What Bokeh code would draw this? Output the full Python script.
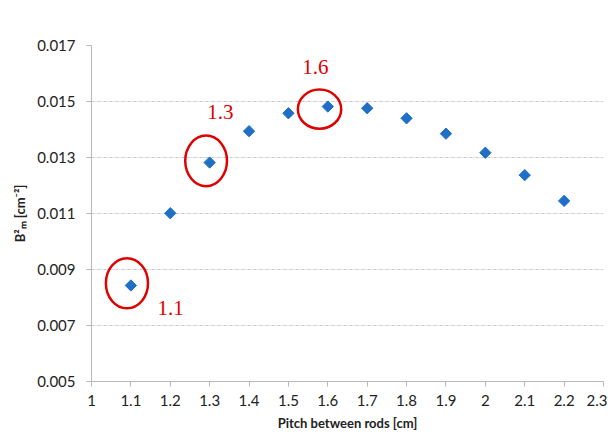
import numpy as np
from bokeh.plotting import figure
from bokeh.models import FixedTicker, CustomJSTickFormatter, Range1d
from bokeh.core.properties import value
from bokeh.embed import file_html
from bokeh.resources import INLINE

# data
pitch = [1.1, 1.2, 1.3, 1.4, 1.5, 1.6, 1.7, 1.8, 1.9, 2.0, 2.1, 2.2]
b2m = [0.00843, 0.01101, 0.01282, 0.01394, 0.01458, 0.01482, 0.01476,
       0.01440, 0.01385, 0.01317, 0.01237, 0.01145]

# highlighted pitches (ellipse centre / size in data units) and labels
hl_x = [1.09, 1.291, 1.579]
hl_y = [0.00851, 0.01288, 0.014725]
hl_w = [0.107, 0.106, 0.110]
hl_h = [0.00179, 0.00181, 0.00140]
hl_label = ["1.1", "1.3", "1.6"]
hl_label_x = [1.1675, 1.2937, 1.5348]
hl_label_y = [0.00761, 0.01461, 0.01625]

x_ticks = [1.0, 1.1, 1.2, 1.3, 1.4, 1.5, 1.6, 1.7, 1.8, 1.9, 2.0, 2.1, 2.2, 2.3]
y_ticks = [0.005, 0.007, 0.009, 0.011, 0.013, 0.015, 0.017]

p = figure(width=607, height=433, output_backend="svg", toolbar_location=None,
           x_range=Range1d(1.0, 2.3), y_range=Range1d(0.005, 0.017),
           min_border_left=91, min_border_right=4, min_border_top=45,
           min_border_bottom=52)
p.outline_line_color = None
p.background_fill_color = "white"

grey = "#b8b8b8"
font = "Lato"

p.xaxis.ticker = FixedTicker(ticks=x_ticks)
p.yaxis.ticker = FixedTicker(ticks=y_ticks)
p.xaxis.formatter = CustomJSTickFormatter(code="return tick.toFixed(1).replace(/\\.0$/, '');")
p.yaxis.formatter = CustomJSTickFormatter(code="return tick.toFixed(3);")

for ax in (p.xaxis, p.yaxis):
    ax.axis_line_color = grey
    ax.major_tick_line_color = grey
    ax.major_tick_out = 5
    ax.major_tick_in = 0
    ax.minor_tick_line_color = None
    ax.major_label_text_font = font
    ax.major_label_text_font_size = "15px"
    ax.major_label_text_color = "#222222"
    ax.axis_label_text_font = font
    ax.axis_label_text_font_style = "bold"
    ax.axis_label_text_font_size = "13px"
    ax.axis_label_text_color = "#222222"

p.xaxis.major_label_standoff = 8
p.yaxis.major_label_standoff = 11
p.xaxis.axis_label = "Pitch between rods [cm]"
p.yaxis.axis_label = "B²ₘ [cm⁻²]"
p.xaxis.axis_label_standoff = 6
p.yaxis.axis_label_standoff = 6

p.xgrid.grid_line_color = None
p.ygrid.grid_line_color = "#c8c8c8"
p.ygrid.grid_line_dash = "3 1 1 1"
p.ygrid.grid_line_width = 1

p.scatter(pitch, b2m, marker="square", angle=np.pi / 4, size=8,
          fill_color="#1f6fc6", line_color="#1f6fc6")

p.ellipse(x=hl_x, y=hl_y, width=hl_w, height=hl_h, fill_alpha=0,
          line_color="#e00000", line_width=2.5)

p.text(x=hl_label_x, y=hl_label_y, text=hl_label, text_color="#e00000",
       text_font=value("Liberation Serif"), text_font_size="21px",
       text_baseline="alphabetic", text_align="left")

open("out.html", "w").write(file_html(p, INLINE))
